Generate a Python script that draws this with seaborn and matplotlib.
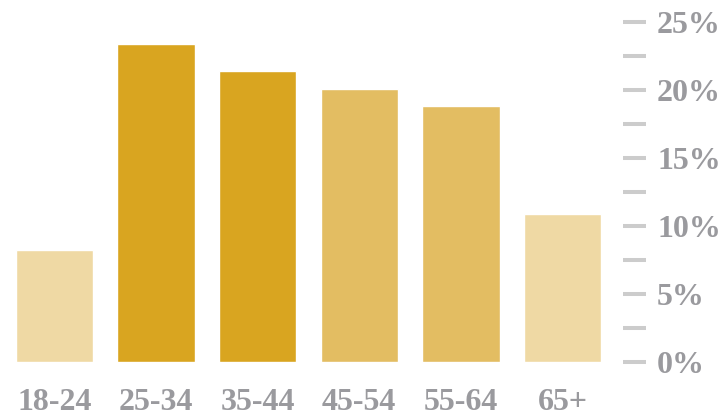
import matplotlib
matplotlib.use("Agg")
import matplotlib.pyplot as plt
from matplotlib.ticker import MultipleLocator, FuncFormatter
import seaborn as sns
import pandas as pd

age_groups = ["18-24", "25-34", "35-44", "45-54", "55-64", "65+"]
shares = [8.2, 23.4, 21.4, 20.1, 18.8, 10.9]
bar_colors = ["#EFD9A4", "#D9A520", "#D9A520", "#E3BD62", "#E3BD62", "#EFD9A4"]

df = pd.DataFrame({"age": age_groups, "share": shares})

sns.set_theme(style="white")
plt.rcParams["font.family"] = ["Liberation Serif", "DejaVu Serif"]

fig = plt.figure(figsize=(7.28, 4.16), dpi=100)
ax = fig.add_axes([0.0, 0.1298, 623 / 728, 0.8173])

sns.barplot(data=df, x="age", y="share", hue="age", palette=bar_colors,
            legend=False, width=0.76, saturation=1, ax=ax)

ax.set_xlim(-0.536, 5.595)
ax.set_ylim(0, 25)

for s in ax.spines.values():
    s.set_visible(False)

ax.yaxis.tick_right()
ax.yaxis.set_major_locator(MultipleLocator(5))
ax.yaxis.set_minor_locator(MultipleLocator(2.5))
ax.yaxis.set_major_formatter(FuncFormatter(lambda v, p: f"{int(v)}%"))
ax.tick_params(axis="y", which="both", length=16.5, width=2.9,
               color="#CCCCCC", pad=8, labelsize=23, labelcolor="#9A9A9E")
ax.tick_params(axis="x", length=0, pad=19, labelsize=23, labelcolor="#9A9A9E")
for lbl in ax.get_yticklabels() + ax.get_xticklabels():
    lbl.set_fontweight("bold")

ax.set_xlabel("")
ax.set_ylabel("")
ax.grid(False)

fig.savefig("out.png", dpi=100)
